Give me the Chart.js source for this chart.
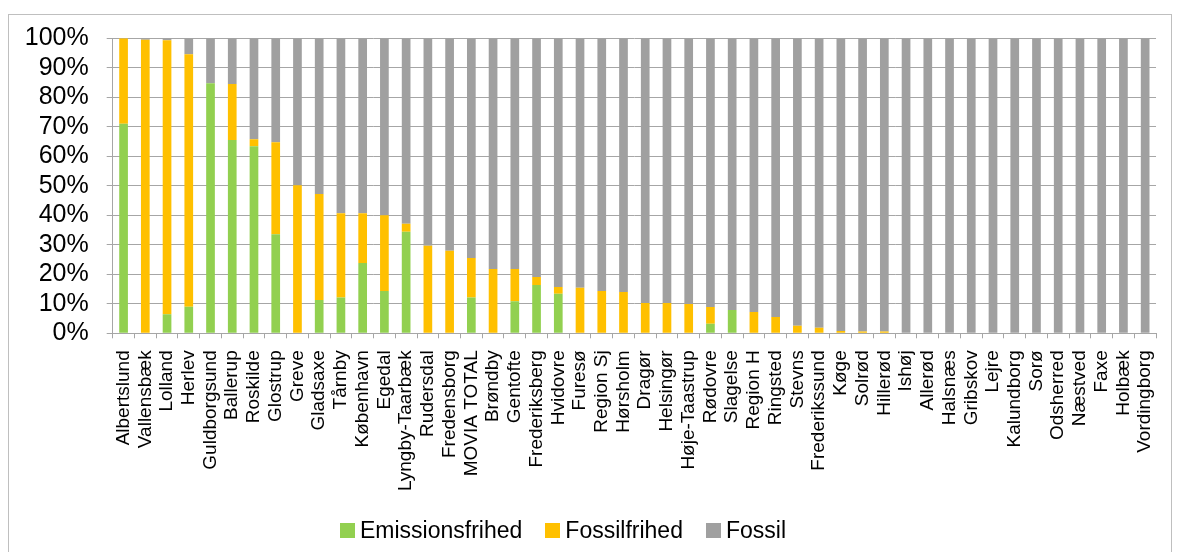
<!DOCTYPE html>
<html>
<head>
<meta charset="utf-8">
<script src="https://cdn.jsdelivr.net/npm/chart.js@4.4.1/dist/chart.umd.min.js"></script>
<style>
  html, body { margin: 0; padding: 0; background: #fff; }
  body { width: 1180px; height: 552px; position: relative; overflow: hidden; font-family: "Liberation Sans", Arial, sans-serif; }
  #frame { position: absolute; left: 8px; top: 14px; width: 1164px; height: 600px; border: 1px solid #bfbfbf; box-sizing: border-box; }
  #wrap { position: absolute; left: 0; top: 0; width: 1180px; height: 552px; }
  #legend { position: absolute; left: 340px; top: 514px; height: 32px; display: flex; align-items: center; font-size: 23px; color: #000; white-space: nowrap; }
  .item { display: flex; align-items: center; margin-right: 23px; }
  .box { width: 15px; height: 15px; margin-right: 5px; }
</style>
</head>
<body>
<div id="frame"></div>
<div id="wrap"><canvas id="c" width="1180" height="552"></canvas></div>
<div id="legend"></div>
<script>
const categories = ["Albertslund","Vallensbæk","Lolland","Herlev","Guldborgsund","Ballerup","Roskilde","Glostrup","Greve","Gladsaxe","Tårnby","København","Egedal","Lyngby-Taarbæk","Rudersdal","Fredensborg","MOVIA TOTAL","Brøndby","Gentofte","Frederiksberg","Hvidovre","Furesø","Region Sj","Hørsholm","Dragør","Helsingør","Høje-Taastrup","Rødovre","Slagelse","Region H","Ringsted","Stevns","Frederikssund","Køge","Solrød","Hillerød","Ishøj","Allerød","Halsnæs","Gribskov","Lejre","Kalundborg","Sorø","Odsherred","Næstved","Faxe","Holbæk","Vordingborg"];

const emissionsfrihed = [71, 0, 6.5, 9, 84.8, 65.5, 63.4, 33.6, 0, 11.3, 12.1, 23.8, 14.3, 34.4, 0, 0, 12.1, 0, 10.9, 16.4, 13.4, 0, 0, 0, 0, 0, 0, 3.2, 7.9, 0, 0, 0, 0, 0, 0, 0, 0, 0, 0, 0, 0, 0, 0, 0, 0, 0, 0, 0];
const fossilfrihed = [29, 99.5, 92.8, 85.6, 0, 19, 2.4, 31.2, 50.2, 35.9, 28.6, 16.9, 25.7, 2.7, 29.7, 28.0, 13.4, 21.8, 10.9, 2.7, 2.3, 15.4, 14.3, 14.0, 10.3, 10.3, 9.9, 5.7, 0, 7.2, 5.5, 2.6, 1.9, 0.8, 0.6, 0.6, 0, 0, 0, 0, 0, 0, 0, 0, 0, 0, 0, 0];
const fossil = [0, 0.5, 0.7, 5.4, 15.2, 15.5, 34.2, 35.2, 49.8, 52.8, 59.3, 59.3, 60, 62.9, 70.3, 72, 74.5, 78.2, 78.2, 80.9, 84.3, 84.6, 85.7, 86, 89.7, 89.7, 90.1, 91.1, 92.1, 92.8, 94.5, 97.4, 98.1, 99.2, 99.4, 99.4, 100, 100, 100, 100, 100, 100, 100, 100, 100, 100, 100, 100];

const seriesNames = ["Emissionsfrihed", "Fossilfrihed", "Fossil"];
const seriesColors = ["#92D050", "#FFC000", "#A0A0A0"];
const yTicks = [0, 10, 20, 30, 40, 50, 60, 70, 80, 90, 100];

const FONT = "'Liberation Sans', Arial, sans-serif";
const gridColor = "#a6a6a6";
const target = { left: 112.7, top: 38.3, right: 1165.7, bottom: 333.3 };

const chart = new Chart(document.getElementById('c'), {
  type: 'bar',
  data: {
    labels: categories,
    datasets: [emissionsfrihed, fossilfrihed, fossil].map((d, i) => ({
      label: seriesNames[i],
      data: d,
      backgroundColor: seriesColors[i],
      borderWidth: 0,
      barPercentage: 0.4,
      categoryPercentage: 1.0
    }))
  },
  options: {
    responsive: false,
    animation: false,
    devicePixelRatio: 1,
    layout: { padding: { left: 0, top: 38, right: 14, bottom: 60 } },
    plugins: { legend: { display: false }, tooltip: { enabled: false }, title: { display: false } },
    scales: {
      x: {
        stacked: true,
        offset: true,
        afterFit: s => { s.height = 160; },
        grid: { drawOnChartArea: false, drawTicks: true, tickLength: 5, offset: true, color: gridColor, lineWidth: 1 },
        border: { display: true, color: gridColor, width: 1 },
        ticks: { autoSkip: false, maxRotation: 90, minRotation: 90, padding: 12, color: '#000', font: { family: FONT, size: 19 } }
      },
      y: {
        stacked: true,
        min: 0,
        max: 100,
        afterFit: s => { s.width = 112.7; },
        afterBuildTicks: s => { s.ticks = yTicks.map(v => ({ value: v })); },
        grid: { color: gridColor, lineWidth: 1, drawTicks: true, tickLength: 6 },
        border: { display: true, color: gridColor, width: 1 },
        ticks: { autoSkip: false, stepSize: 10, padding: 18, color: '#000', font: { family: FONT, size: 25 }, callback: v => v + '%' }
      }
    }
  }
});

// align plot area with the reference
const ca = chart.chartArea;
const p = chart.options.layout.padding;
p.left += target.left - ca.left;
p.top += target.top - ca.top;
p.right += ca.right - target.right;
p.bottom += ca.bottom - target.bottom;
chart.update('none');

// legend
const lg = document.getElementById('legend');
seriesNames.forEach((n, i) => {
  const it = document.createElement('div'); it.className = 'item';
  const b = document.createElement('div'); b.className = 'box'; b.style.background = seriesColors[i];
  const t = document.createElement('span'); t.textContent = n;
  it.appendChild(b); it.appendChild(t); lg.appendChild(it);
});
</script>
</body>
</html>
